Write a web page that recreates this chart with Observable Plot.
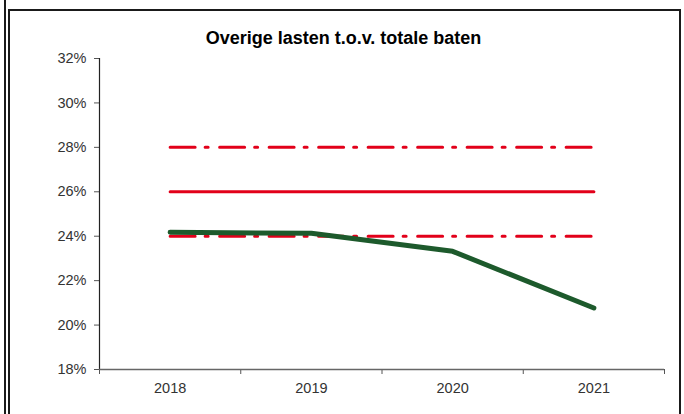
<!DOCTYPE html>
<html>
<head>
<meta charset="utf-8">
<script src="https://cdn.jsdelivr.net/npm/d3@7"></script>
<script src="https://cdn.jsdelivr.net/npm/@observablehq/plot@0.6"></script>
<style>
  html, body { margin: 0; padding: 0; background: #fff; }
  #wrap { position: relative; width: 684px; height: 414px; overflow: hidden; font-family: "Liberation Sans", Arial, sans-serif; }
  .ln { position: absolute; background: #1a1a1a; }
  #title { position: absolute; left: 8px; width: 671px; top: 27px; text-align: center; font-weight: bold; font-size: 18px; line-height: 22px; color: #000; }
  #chart { position: absolute; left: 0; top: 48px; }
</style>
</head>
<body>
<div id="wrap">
  <div class="ln" style="left:4px;top:0;width:2px;height:414px"></div>
  <div class="ln" style="left:8px;top:9px;width:2px;height:405px"></div>
  <div class="ln" style="left:8px;top:9px;width:673px;height:2px"></div>
  <div class="ln" style="left:679px;top:9px;width:2px;height:405px"></div>
  <div id="title">Overige lasten t.o.v. totale baten</div>
  <div id="chart"></div>
</div>
<script>
const years = [2018, 2019, 2020, 2021];
const ratio = [0.2418, 0.2413, 0.2332, 0.2077];
const norm = 0.26;
const upperBound = 0.28;
const lowerBound = 0.24;
const yTicks = [0.18, 0.20, 0.22, 0.24, 0.26, 0.28, 0.30, 0.32];

const actual = years.map((y, i) => ({year: y, value: ratio[i]}));
const refLine = v => years.map(y => ({year: y, value: v}));
const boundaries = [...years.map(y => y - 0.5), years[years.length - 1] + 0.5];

const red = "#e2001a";
const green = "#1d5a2c";
const dashDot = "25,10,3,11.5";

const chart = Plot.plot({
  width: 684,
  height: 366,
  marginLeft: 99,
  marginRight: 20,
  marginTop: 10,
  marginBottom: 45,
  style: {fontFamily: "Liberation Sans, Arial, sans-serif", fontSize: "14px", color: "#333", background: "transparent"},
  x: {domain: [2017.5, 2021.5], axis: null},
  y: {domain: [0.18, 0.32], axis: null},
  marks: [
    Plot.axisY({ticks: yTicks, tickFormat: d3.format(".0%"), tickSize: 5, tickPadding: 8, stroke: "#555", fill: "#333", label: null}),
    Plot.axisX({ticks: boundaries, tickFormat: () => "", tickSize: 5, stroke: "#555", label: null}),
    Plot.axisX({ticks: years, tickFormat: d => String(d), tickSize: 0, tickPadding: 13, fill: "#333", label: null}),
    Plot.ruleX([2017.5], {y1: 0.18, y2: 0.32, stroke: "#222", strokeWidth: 1.2}),
    Plot.ruleY([0.18], {x1: 2017.5, x2: 2021.5, stroke: "#666", strokeWidth: 1.5}),
    Plot.line(refLine(upperBound), {x: "year", y: "value", stroke: red, strokeWidth: 3, strokeDasharray: dashDot}),
    Plot.line(refLine(norm), {x: "year", y: "value", stroke: red, strokeWidth: 3}),
    Plot.line(refLine(lowerBound), {x: "year", y: "value", stroke: red, strokeWidth: 3, strokeDasharray: dashDot}),
    Plot.line(actual, {x: "year", y: "value", stroke: green, strokeWidth: 5, strokeLinecap: "round", strokeLinejoin: "round"})
  ]
});
d3.select(chart).selectAll("text").style("font-size", "14.5px").style("font-family", "'Liberation Sans', Arial, sans-serif");
document.getElementById("chart").appendChild(chart);
</script>
</body>
</html>
